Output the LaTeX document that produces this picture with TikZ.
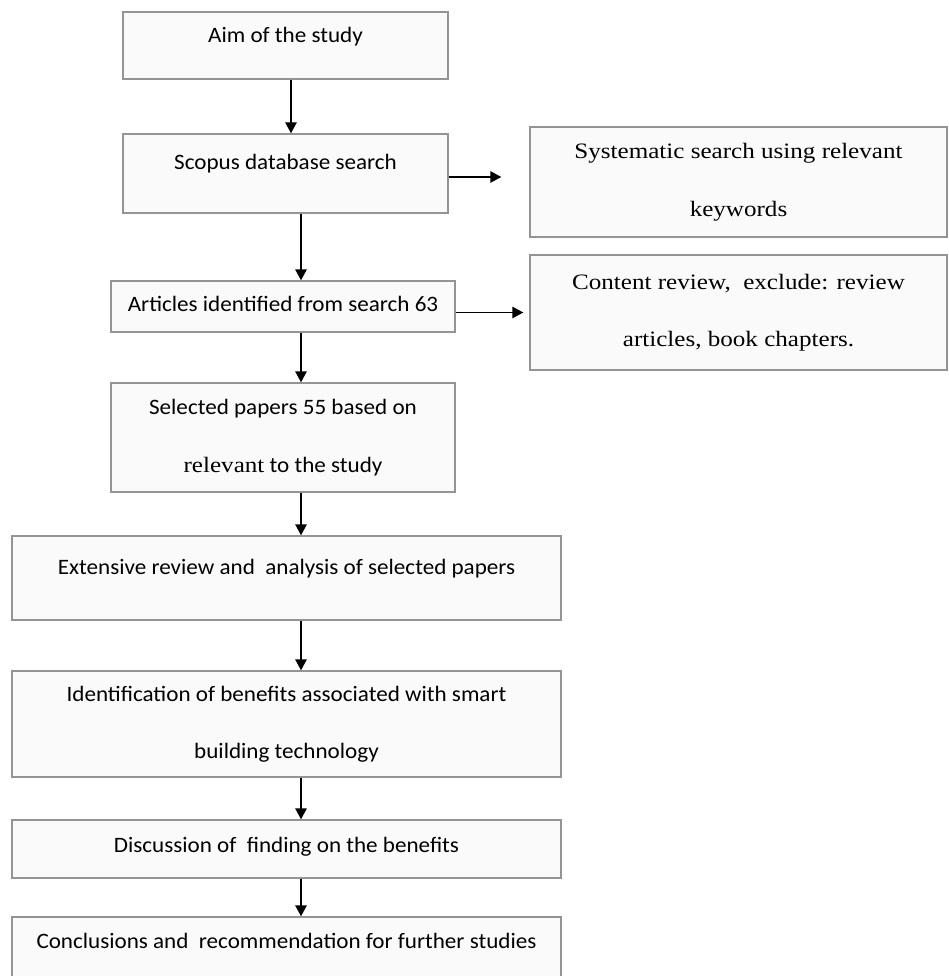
\documentclass[tikz,border=0pt]{standalone}
\usepackage{fontspec}
\setmainfont{Carlito}[FakeStretch=1.05]
\newfontfamily\timesfont{Liberation Serif}[FakeStretch=1.14]
\usetikzlibrary{arrows.meta}

\begin{document}
\begin{tikzpicture}[
      x=1pt, y=-1pt,
      inner sep=0pt,
      font=\fontsize{22}{57.5}\selectfont,
      stage/.style={draw=black!42, line width=1.4pt, fill=black!2, align=center},
      small/.style={stage, minimum width=325pt},
      mid/.style={stage, minimum width=344pt},
      wide/.style={stage, minimum width=549pt},
      side/.style={stage, minimum width=417pt, font=\timesfont\fontsize{22}{57.5}\selectfont},
      arr/.style={-{Triangle[length=11pt,width=11.5pt]}, line width=1.4pt}
    ]
    \useasboundingbox (0,0) rectangle (948,976);
    \clip (0,0) rectangle (948,976);
    % main column
    \node (aim) [small, minimum height=67pt, text height=16pt, text depth=21pt] at (285.5,45.5) {Aim of the study};
    \node (scopus) [small, minimum height=79pt, text height=16pt, text depth=23pt] at (285.5,173.5) {Scopus database search};
    \node (articles) [mid, minimum height=51pt, text height=16pt, text depth=6pt] at (283,306.5) {Articles identified from search 63};
    \node (selected) [mid, minimum height=109pt] at (283,437.5) {Selected papers 55 based on\\{\timesfont relevant} to the study};
    \node (extensive) [wide, minimum height=84pt, text height=16pt, text depth=24pt] at (286.5,578) {Extensive review and\ \ analysis of selected papers};
    \node (identification) [wide, minimum height=106pt] at (286.5,724) {Identification of benefits associated with smart\\building technology};
    \node (discussion) [wide, minimum height=58pt, text height=16pt, text depth=10pt] at (286.5,849) {Discussion of\ \ finding on the benefits};
    \node (conclusions) [wide, minimum height=84pt, text height=16pt, text depth=38pt] at (286.5,959) {Conclusions and\ \ recommendation for further studies};
    % side boxes
    \node (keywords) [side, minimum height=110pt] at (738.5,182) {Systematic search using relevant\\keywords};
    \node (exclude) [side, minimum height=115pt] at (738.5,312.5) {Content review,\ \ exclude: review\\articles, book chapters.};
    \coordinate (spinetop) at (291,0);
    \coordinate (spine) at (301,0);
    \draw[arr] (aim.south -| spinetop) -- (scopus.north -| spinetop);
    \foreach \a/\b in {scopus/articles, articles/selected, selected/extensive,
        extensive/identification, identification/discussion, discussion/conclusions}
      \draw[arr] (\a.south -| spine) -- (\b.north -| spine);
    \draw[arr, shorten >=28pt] ([yshift=-3.5pt]scopus.east) -- ([yshift=-3.5pt]scopus.east -| keywords.west);
    \draw[arr, shorten >=6pt] ([yshift=-6pt]articles.east) -- ([yshift=-6pt]articles.east -| exclude.west);
  \end{tikzpicture}
\end{document}
